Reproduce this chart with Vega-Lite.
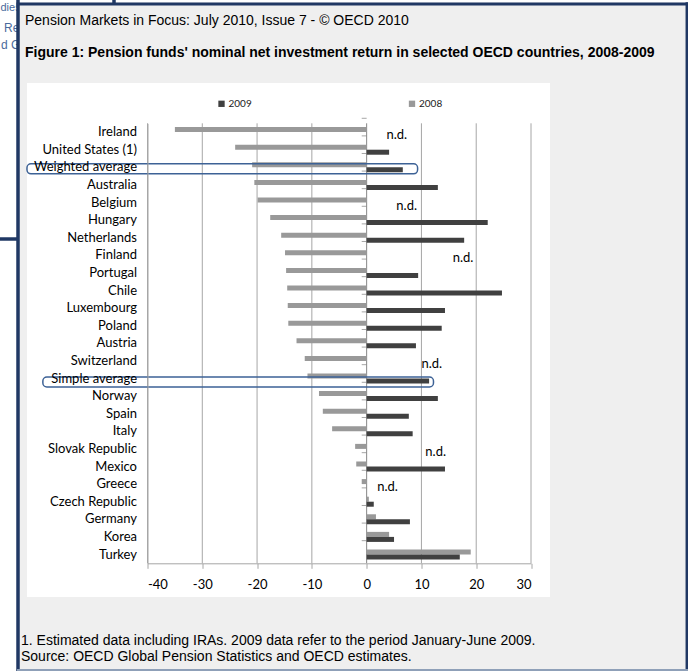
{
  "$schema": "https://vega.github.io/schema/vega-lite/v6.json",
  "width": 383.5,
  "height": 440,
  "autosize": {"type": "none"},
  "padding": {"left": 147.5, "top": 123.3, "right": 157, "bottom": 107.7},
  "background": "white",
  "config": {"view": {"stroke": null}, "font": "Lato"},
  "datasets": {
    "returns": [
      {"country": "Ireland", "year": "2008", "value": -35.0},
      {"country": "Ireland", "year": "2009", "value": null},
      {"country": "United States (1)", "year": "2008", "value": -24.0},
      {"country": "United States (1)", "year": "2009", "value": 4.1},
      {"country": "Weighted average", "year": "2008", "value": -20.9},
      {"country": "Weighted average", "year": "2009", "value": 6.6},
      {"country": "Australia", "year": "2008", "value": -20.5},
      {"country": "Australia", "year": "2009", "value": 13.0},
      {"country": "Belgium", "year": "2008", "value": -19.9},
      {"country": "Belgium", "year": "2009", "value": null},
      {"country": "Hungary", "year": "2008", "value": -17.6},
      {"country": "Hungary", "year": "2009", "value": 22.1},
      {"country": "Netherlands", "year": "2008", "value": -15.6},
      {"country": "Netherlands", "year": "2009", "value": 17.8},
      {"country": "Finland", "year": "2008", "value": -14.9},
      {"country": "Finland", "year": "2009", "value": null},
      {"country": "Portugal", "year": "2008", "value": -14.7},
      {"country": "Portugal", "year": "2009", "value": 9.4},
      {"country": "Chile", "year": "2008", "value": -14.5},
      {"country": "Chile", "year": "2009", "value": 24.7},
      {"country": "Luxembourg", "year": "2008", "value": -14.4},
      {"country": "Luxembourg", "year": "2009", "value": 14.3},
      {"country": "Poland", "year": "2008", "value": -14.3},
      {"country": "Poland", "year": "2009", "value": 13.7},
      {"country": "Austria", "year": "2008", "value": -12.8},
      {"country": "Austria", "year": "2009", "value": 9.0},
      {"country": "Switzerland", "year": "2008", "value": -11.3},
      {"country": "Switzerland", "year": "2009", "value": null},
      {"country": "Simple average", "year": "2008", "value": -10.8},
      {"country": "Simple average", "year": "2009", "value": 11.4},
      {"country": "Norway", "year": "2008", "value": -8.7},
      {"country": "Norway", "year": "2009", "value": 13.0},
      {"country": "Spain", "year": "2008", "value": -8.0},
      {"country": "Spain", "year": "2009", "value": 7.7},
      {"country": "Italy", "year": "2008", "value": -6.3},
      {"country": "Italy", "year": "2009", "value": 8.4},
      {"country": "Slovak Republic", "year": "2008", "value": -2.1},
      {"country": "Slovak Republic", "year": "2009", "value": null},
      {"country": "Mexico", "year": "2008", "value": -1.9},
      {"country": "Mexico", "year": "2009", "value": 14.3},
      {"country": "Greece", "year": "2008", "value": -0.9},
      {"country": "Greece", "year": "2009", "value": null},
      {"country": "Czech Republic", "year": "2008", "value": 0.4},
      {"country": "Czech Republic", "year": "2009", "value": 1.3},
      {"country": "Germany", "year": "2008", "value": 1.7},
      {"country": "Germany", "year": "2009", "value": 7.9},
      {"country": "Korea", "year": "2008", "value": 4.1},
      {"country": "Korea", "year": "2009", "value": 5.0},
      {"country": "Turkey", "year": "2008", "value": 19.0},
      {"country": "Turkey", "year": "2009", "value": 17.0}
    ],
    "notes": [
      {"country": "Ireland", "note": "n.d.", "at": 5.5},
      {"country": "Belgium", "note": "n.d.", "at": 7.3},
      {"country": "Finland", "note": "n.d.", "at": 17.6},
      {"country": "Switzerland", "note": "n.d.", "at": 11.9},
      {"country": "Slovak Republic", "note": "n.d.", "at": 12.6},
      {"country": "Greece", "note": "n.d.", "at": 3.8}
    ],
    "gridticks": [
      {"tick": -40}, {"tick": -30}, {"tick": -20}, {"tick": -10},
      {"tick": 10}, {"tick": 20}, {"tick": 30}
    ]
  },
  "layer": [
    {
      "data": {"values": [{}]},
      "mark": {"type": "text", "text": "dies", "align": "left", "baseline": "middle", "font": "Liberation Sans", "fontSize": 11, "color": "#4a6a9c"},
      "encoding": {"x": {"value": -147}, "y": {"value": -115.3}}
    },
    {
      "data": {"values": [{}]},
      "mark": {"type": "text", "text": "Re", "align": "left", "baseline": "middle", "font": "Liberation Sans", "fontSize": 12, "color": "#4a6a9c"},
      "encoding": {"x": {"value": -143.5}, "y": {"value": -95.3}}
    },
    {
      "data": {"values": [{}]},
      "mark": {"type": "text", "text": "d G", "align": "left", "baseline": "middle", "font": "Liberation Sans", "fontSize": 12, "color": "#4a6a9c"},
      "encoding": {"x": {"value": -146.5}, "y": {"value": -78.3}}
    },
    {
      "data": {"values": [{}]},
      "mark": {"type": "rect", "fill": "#efefef"},
      "encoding": {"x": {"value": -130.5}, "x2": {"value": 540.5}, "y": {"value": -120.8}, "y2": {"value": 547.7}}
    },
    {
      "data": {"values": [{}]},
      "mark": {"type": "rect", "fill": "#ffffff"},
      "encoding": {"x": {"value": -120.5}, "x2": {"value": 402.5}, "y": {"value": -40.3}, "y2": {"value": 473.7}}
    },
    {
      "data": {"values": [{}]},
      "mark": {"type": "rule", "color": "#203864", "strokeWidth": 3.5},
      "encoding": {"x": {"value": -129.5}, "y": {"value": -123.3}, "y2": {"value": 547.7}}
    },
    {
      "data": {"values": [{}]},
      "mark": {"type": "rule", "color": "#203864", "strokeWidth": 3},
      "encoding": {"y": {"value": -119.3}, "x": {"value": -131}, "x2": {"value": 540.5}}
    },
    {
      "data": {"values": [{}]},
      "mark": {"type": "rule", "color": "#203864", "strokeWidth": 2.5},
      "encoding": {"x": {"value": 539.3}, "y": {"value": -121}, "y2": {"value": 547.7}}
    },
    {
      "data": {"values": [{}]},
      "mark": {"type": "rule", "color": "#8fa0b8", "strokeWidth": 2},
      "encoding": {"y": {"value": 546.7}, "x": {"value": -130.5}, "x2": {"value": 540.5}}
    },
    {
      "data": {"values": [{}]},
      "mark": {"type": "rule", "color": "#203864", "strokeWidth": 3.5},
      "encoding": {"x": {"value": -33.5}, "y": {"value": -123.3}, "y2": {"value": -119.3}}
    },
    {
      "data": {"values": [{}]},
      "mark": {"type": "rule", "color": "#203864", "strokeWidth": 3.5},
      "encoding": {"y": {"value": 115.7}, "x": {"value": -147.5}, "x2": {"value": -130}}
    },
    {
      "data": {"values": [{}]},
      "mark": {"type": "text", "text": "Pension Markets in Focus: July 2010, Issue 7 - © OECD 2010", "align": "left", "baseline": "middle", "font": "Liberation Sans", "fontSize": 14, "color": "#000000"},
      "encoding": {"x": {"value": -122.5}, "y": {"value": -102.3}}
    },
    {
      "data": {"values": [{}]},
      "mark": {"type": "text", "text": "Figure 1: Pension funds' nominal net investment return in selected OECD countries, 2008-2009", "align": "left", "baseline": "middle", "font": "Liberation Sans", "fontSize": 14, "fontWeight": "bold", "color": "#000000"},
      "encoding": {"x": {"value": -122.5}, "y": {"value": -70.3}}
    },
    {
      "data": {"values": [{}]},
      "mark": {"type": "text", "text": "1. Estimated data including IRAs. 2009 data refer to the period January-June 2009.", "align": "left", "baseline": "middle", "font": "Liberation Sans", "fontSize": 14, "color": "#000000"},
      "encoding": {"x": {"value": -126.5}, "y": {"value": 517.7}}
    },
    {
      "data": {"values": [{}]},
      "mark": {"type": "text", "text": "Source: OECD Global Pension Statistics and OECD estimates.", "align": "left", "baseline": "middle", "font": "Liberation Sans", "fontSize": 14, "color": "#000000"},
      "encoding": {"x": {"value": -126.5}, "y": {"value": 533.7}}
    },
    {
      "data": {"name": "gridticks"},
      "mark": {"type": "rule", "color": "#a6a6a6", "strokeWidth": 1},
      "encoding": {"x": {"field": "tick", "type": "quantitative", "title": null, "scale": {"domain": [-40, 30], "nice": false, "zero": false}}}
    },
    {
      "data": {"name": "returns"},
      "transform": [{"filter": "datum.year == '2009'"}],
      "mark": {"type": "rule", "color": "#a6a6a6", "strokeWidth": 1},
      "encoding": {
        "y": {"field": "country", "type": "nominal", "title": null},
        "yOffset": {"value": -8.8},
        "x": {"datum": -0.9, "type": "quantitative"},
        "x2": {"datum": 0}
      }
    },
    {
      "data": {"values": [{}]},
      "mark": {"type": "rule", "color": "#868686", "strokeWidth": 1},
      "encoding": {"x": {"datum": 0, "type": "quantitative"}}
    },
    {
      "data": {"name": "returns"},
      "transform": [{"filter": "datum.value != null"}],
      "mark": {"type": "bar"},
      "encoding": {
        "y": {
          "field": "country", "type": "nominal",
          "scale": {
            "domain": ["Ireland", "United States (1)", "Weighted average", "Australia", "Belgium", "Hungary", "Netherlands", "Finland", "Portugal", "Chile", "Luxembourg", "Poland", "Austria", "Switzerland", "Simple average", "Norway", "Spain", "Italy", "Slovak Republic", "Mexico", "Greece", "Czech Republic", "Germany", "Korea", "Turkey"],
            "paddingInner": 0.43, "paddingOuter": 0.215
          },
          "axis": {"title": null, "ticks": false, "domainColor": "#a6a6a6", "labelFont": "Lato", "labelFontSize": 13, "labelColor": "#000000", "labelPadding": 11, "zindex": 1}
        },
        "yOffset": {"field": "year", "type": "nominal", "sort": ["2008", "2009"]},
        "x": {
          "field": "value", "type": "quantitative",
          "scale": {"domain": [-40, 30], "nice": false, "zero": false},
          "axis": {"title": null, "values": [-40, -30, -20, -10, 0, 10, 20, 30], "labelExpr": "'' + datum.value", "grid": false, "domainColor": "#a6a6a6", "tickColor": "#a6a6a6", "tickSize": 5, "labelFont": "Lato", "labelFontSize": 13, "labelColor": "#000000", "labelPadding": 10, "zindex": 1}
        },
        "color": {
          "field": "year", "type": "nominal",
          "scale": {"domain": ["2009", "2008"], "range": ["#404040", "#999999"]},
          "legend": {"title": null, "orient": "none", "legendX": 69, "legendY": -24.5, "direction": "horizontal", "columns": 2, "columnPadding": 154.5, "symbolType": "square", "symbolSize": 40, "symbolStrokeWidth": 0, "labelFont": "Lato", "labelFontSize": 10, "labelColor": "#222222", "labelOffset": 2}
        }
      }
    },
    {
      "data": {"name": "notes"},
      "mark": {"type": "text", "font": "Lato", "fontSize": 13, "color": "#000000", "align": "center", "baseline": "middle", "dy": 3},
      "encoding": {
        "y": {"field": "country", "type": "nominal"},
        "x": {"field": "at", "type": "quantitative"},
        "text": {"field": "note"}
      }
    },
    {
      "data": {"values": [{"country": "Weighted average"}]},
      "mark": {"type": "rect", "fill": null, "fillOpacity": 0, "stroke": "#3d6296", "strokeWidth": 1.5, "cornerRadius": 4},
      "encoding": {
        "y": {"field": "country", "type": "nominal"},
        "yOffset": {"value": 1.5},
        "x": {"datum": -62.0, "type": "quantitative"},
        "x2": {"datum": 9.3}
      }
    },
    {
      "data": {"values": [{"country": "Simple average"}]},
      "mark": {"type": "rect", "fill": null, "fillOpacity": 0, "stroke": "#3d6296", "strokeWidth": 1.5, "cornerRadius": 4},
      "encoding": {
        "y": {"field": "country", "type": "nominal"},
        "yOffset": {"value": 3.5},
        "x": {"datum": -59.1, "type": "quantitative"},
        "x2": {"datum": 12.2}
      }
    }
  ]
}
